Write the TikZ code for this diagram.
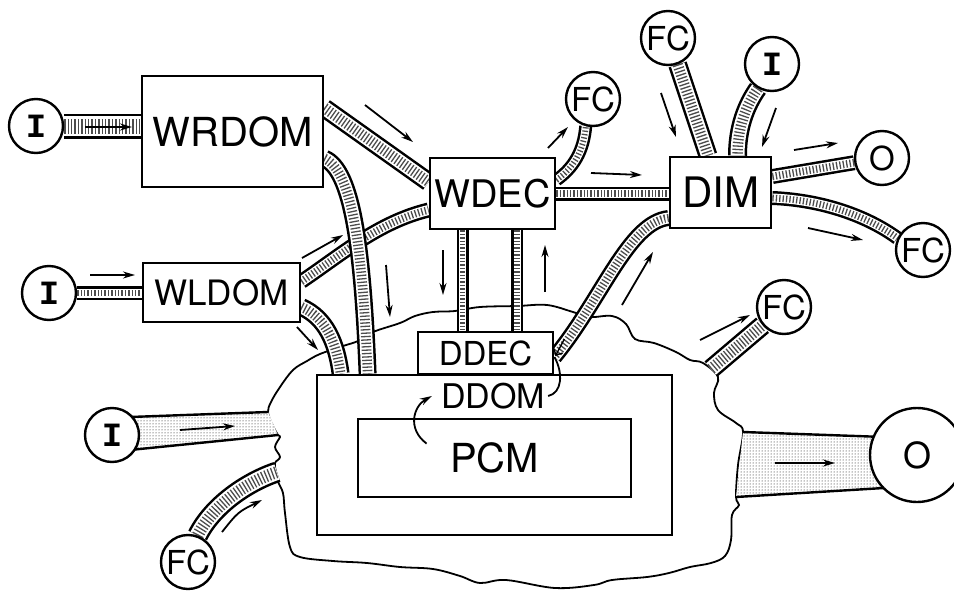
\documentclass[tikz,border=0pt]{standalone}
\usepackage{fontspec}
\setmainfont{TeX Gyre Heros}
\newfontfamily\slabfont{Liberation Mono}
\usetikzlibrary{arrows.meta, calc, patterns}
\newcommand{\sizept}[1]{\fontsize{#1}{#1}\selectfont}
\pgfdeclarelayer{cloudlayer}
\pgfdeclarelayer{pipelayer}
\pgfsetlayers{cloudlayer,pipelayer,main}

\begin{document}
\begin{tikzpicture}[
  x=1pt, y=-1pt,
  blk/.style={rectangle, draw, line width=2.8pt, fill=white, inner sep=0pt},
  port/.style={circle, draw, line width=2.4pt, fill=white, minimum size=54pt, inner sep=0pt, font=\sizept{33}},
  inport/.style={port, font=\slabfont\bfseries\sizept{34}},
  pipe/.style={draw=black, line width=#1+5,
               postaction={draw=white, line width=#1},
               postaction={draw=black!70, line width=0.75*#1, dash pattern=on 1.3pt off 2.1pt}},
  band/.style={pattern=dots, pattern color=black},
  flow/.style={-{Stealth[length=12pt,width=7pt]}, line width=1.8pt},
  rim/.style={line width=1.8pt},
]
\useasboundingbox (0,0) rectangle (954,592);

% --- Bloques ---
\node[inport] (inr) at (36,126) {I};
\node[blk, minimum width=181pt, minimum height=111pt, font=\sizept{40}] (wrdom) at (232.5,131.5) {WRDOM};
\node[inport] (inl) at (49,293) {I};
\node[blk, minimum width=157pt, minimum height=59pt, font=\sizept{35}] (wldom) at (221.5,292.5) {WLDOM};
\node[blk, minimum width=125pt, minimum height=71pt, font=\sizept{38}] (wdec) at (492.5,193.5) {WDEC};
\node[blk, minimum width=101pt, minimum height=71pt, font=\sizept{42}] (dim) at (720.5,192.5) {DIM};

% --- Puertos ---
\node[port] (fcw) at (593,99) {FC};
\node[port] (fct) at (668,38) {FC};
\node[inport] (ind) at (772,64) {I};
\node[port] (odim) at (882,158) {O};
\node[port] (fcd) at (923,250) {FC};
\node[port] (fcm) at (784,307) {FC};
\node[port, minimum size=94pt, font=\sizept{36}] (ocl) at (917,455) {O};
\node[inport] (incl) at (112,435) {I};
\node[port] (fccl) at (188,562) {FC};

% --- Dominio inferior ---
\node[blk, minimum width=355pt, minimum height=160pt] (ddom) at (494.5,455) {};
\node[blk, minimum width=273pt, minimum height=78pt, font=\sizept{40}] (pcm) at (494.5,458) {PCM};
\node[blk, minimum width=135pt, minimum height=42pt, font=\sizept{33}] (ddec) at (485.5,353) {DDEC};
\node[inner sep=0pt, font=\sizept{34}] (ddomlbl) at (493,396) {DDOM};

% --- Puntos del contorno ---
\coordinate (cl-fcm) at (711,369);
\coordinate (cl-fcb) at (277,472);
\coordinate (cl-i1) at (268,412);
\coordinate (cl-i2) at (278,435);
\coordinate (cl-o1) at (743,432);
\coordinate (cl-o2) at (736,497);

\begin{pgfonlayer}{cloudlayer}
  \draw[rim, fill=white] plot[smooth cycle, tension=0.6] coordinates {
    (268,412) (271,402) (280,387) (293,370) (307,361) (320,354) (343,346) (358,341)
    (373,332) (400,323) (415,316) (433,312) (455,311) (480,307) (517,306) (547,305)
    (573,312) (590,317) (612,316) (626,324) (635,339) (654,343) (676,352) (690,360)
    (703,363) (718,377) (714,393) (718,410) (736,423) (743,432) (738,465) (736,497)
    (739,505) (732,515) (731,540) (725,556) (711,563) (690,567) (669,573) (647,577)
    (612,580) (594,585) (555,588) (506,580) (480,583) (460,576) (433,569) (400,567)
    (367,563) (333,561) (300,557) (290,547) (285,513) (283,493) (278,482) (276,472)
    (275,463) (280,457) (275,447) (280,437) (278,435) (272,424)};
\end{pgfonlayer}

% --- Conductos ---
\begin{pgfonlayer}{pipelayer}
  \draw[pipe=20] (inr) -- (inr -| wrdom.west);
  \draw[pipe=9]  (inl) -- (inl -| wldom.west);
  \draw[pipe=14] ([yshift=23.5pt]wrdom.east) -- ([yshift=11.5pt]wdec.west);
  \draw[pipe=10] ([yshift=11pt]wldom.east) .. controls +(40,-27) and +(-50,12) .. ([yshift=-16.5pt]wdec.west);
  \draw[pipe=13] ([yshift=-27pt]wrdom.east) .. controls +(28,12) and +(-5,-125) .. ([xshift=52pt]ddom.north west);
  \draw[pipe=13] ([yshift=-14.5pt]wldom.east) .. controls +(25,11) and +(-4,-30) .. ([xshift=25pt]ddom.north west);
  \draw[pipe=8]  ([yshift=13.5pt]wdec.east) .. controls +(17,-12) and +(-2,25) .. (fcw.255);
  \draw[pipe=9]  (wdec.east) -- (wdec.east -| dim.west);
  \draw[pipe=14] (fct.290) -- ([xshift=-12.5pt]dim.north);
  \draw[pipe=14] (ind.240) .. controls +(-12,17) and +(0,-28) .. ([xshift=17pt]dim.north);
  \draw[pipe=10] ([yshift=16pt]dim.east) -- (odim);
  \draw[pipe=9]  ([yshift=-5.5pt]dim.east) .. controls +(50,2) and +(-30,-22) .. (fcd.155);
  \draw[pipe=11] ([yshift=-25.5pt]dim.west) .. controls +(-40,4) and +(47,-57) .. ([yshift=-4pt]ddec.east);
  \draw[pipe=7]  ($(wdec.south)+(-30,0)$) -- ($(wdec.south |- ddec.north)+(-30,0)$);
  \draw[pipe=7]  ($(wdec.south)+(24.5,0)$) -- ($(wdec.south |- ddec.north)+(24.5,0)$);
  \draw[pipe=15] (cl-fcm) -- (fcm);
  \draw[pipe=16] (fccl.70) .. controls +(15,-30) and +(-30,10) .. (cl-fcb);
  % bandas anchas
  \fill[white] ($(incl)+(18,-18)$) -- (cl-i1) -- (cl-i2) -- ($(incl)+(18,15)$) -- cycle;
  \fill[band]  ($(incl)+(18,-18)$) -- (cl-i1) -- (cl-i2) -- ($(incl)+(18,15)$) -- cycle;
  \draw[line width=2.4pt] ($(incl)+(18,-18)$) -- (cl-i1) ($(incl)+(18,15)$) -- (cl-i2);
  \fill[white] (cl-o1) -- ($(ocl)+(-33,-18)$) -- ($(ocl)+(-33,33)$) -- (cl-o2) -- cycle;
  \fill[band]  (cl-o1) -- ($(ocl)+(-33,-18)$) -- ($(ocl)+(-33,33)$) -- (cl-o2) -- cycle;
  \draw[line width=2.4pt] (cl-o1) -- ($(ocl)+(-33,-18)$) (cl-o2) -- ($(ocl)+(-33,33)$);
\end{pgfonlayer}

% --- Flechas de flujo ---
\draw[flow] (85,127) -- (132,127);
\draw[flow] (90,275) -- (135,275);
\draw[flow] (365,105) -- (413,142);
\draw[flow] (302,258) -- (343,235);
\draw[flow] (297,327) -- (318,350);
\draw[flow] (386,265) -- (390,317);
\draw[flow] (443,250) -- (443,295);
\draw[flow] (545,292) -- (545,245);
\draw[flow] (548,148) -- (568,127);
\draw[flow] (591,173) -- (642,175);
\draw[flow] (661,93) -- (676,137);
\draw[flow] (776,108) -- (762,147);
\draw[flow] (794,150) -- (838,143);
\draw[flow] (808,228) -- (863,240);
\draw[flow] (622,305) -- (653,252);
\draw[flow] (700,340) -- (750,315);
\draw[flow] (775,463) -- (835,463);
\draw[flow] (180,430) -- (235,426);
\draw[flow] (222,532) .. controls (238,512) .. (262,500);

% --- Dentro del dominio ---
\draw[line width=1.4pt, -{Straight Barb[length=5pt]}] ($(ddec.east)+(10,-14)$) -- ($(ddec.east)+(1,3)$);
\draw[rim] ([yshift=-4pt]ddec.east) .. controls +(9,16) and +(14,-3) .. ([xshift=3pt]ddomlbl.east);
\draw[flow] ($(pcm.north west)+(70,26)$) .. controls +(-20,-15) and +(-18,10) .. ($(ddomlbl.west)+(-9,0)$);

\end{tikzpicture}
\end{document}
